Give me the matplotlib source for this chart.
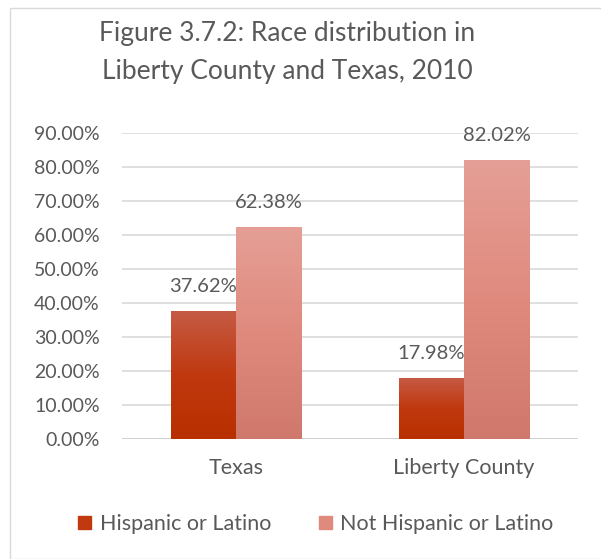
import matplotlib
matplotlib.use("Agg")
import matplotlib.pyplot as plt
import numpy as np
from matplotlib.colors import LinearSegmentedColormap
from matplotlib.patches import Rectangle, Patch

categories = ["Texas", "Liberty County"]
series_names = ["Hispanic or Latino", "Not Hispanic or Latino"]
hispanic = [37.62, 17.98]
not_hispanic = [62.38, 82.02]
yticks = [0, 10, 20, 30, 40, 50, 60, 70, 80, 90]
title_lines = ["Figure 3.7.2: Race distribution in", "Liberty County and Texas, 2010"]

plt.rcParams['font.family'] = ['Lato', 'DejaVu Sans']
TXT = "#595959"

W, H = 601, 559
fig = plt.figure(figsize=(W/100, H/100), dpi=100)
fig.patches.append(Rectangle((10/W, 0), 1, 1 - 8/H, transform=fig.transFigure,
                             fill=False, edgecolor="#d9d9d9", linewidth=1.0))

ax = fig.add_axes([122/W, 1 - 439/H, (578-122)/W, (439-133)/H])
for s in ax.spines.values():
    s.set_visible(False)
ax.set_yticks(yticks)
ax.set_yticklabels([f"{v:.2f}%" for v in yticks])
ax.tick_params(axis='y', length=0, labelsize=14, labelcolor=TXT, pad=16)
ax.tick_params(axis='x', length=0, labelsize=15.5, labelcolor=TXT, pad=14)
ax.set_xticks(range(len(categories)))
ax.set_xticklabels(categories)
ax.grid(axis='y', color="#d9d9d9", linewidth=1.2)
ax.set_axisbelow(True)
ax.axhline(0, color="#d0d0d0", linewidth=1.2)

width = 0.287
cm1 = LinearSegmentedColormap.from_list("c1", ["#b83000", "#c0390f", "#c55b45"])
cm2 = LinearSegmentedColormap.from_list("c2", ["#cf786b", "#e08a7e", "#e59f96"])
grad = np.linspace(0, 1, 256).reshape(-1, 1)

x = np.arange(len(categories))
for vals, off, cm, col in [(hispanic, -width/2, cm1, "#c0390f"), (not_hispanic, width/2, cm2, "#e08a7e")]:
    bars = ax.bar(x + off, vals, width, color=col, zorder=2)
    for b, v in zip(bars, vals):
        x0 = b.get_x()
        im = ax.imshow(grad, cmap=cm, origin='lower', aspect='auto',
                       extent=[x0, x0 + width, 0, v], zorder=3)
        im.set_clip_path(b)
        ax.text(b.get_x() + width/2, v + 7.3, f"{v:.2f}%", ha='center', va='center',
                fontsize=14.5, color=TXT)
ax.set_xlim(-0.5, 1.5)
ax.set_ylim(0, 90)

fig.text(287/W, 1 - 33/H, title_lines[0], ha='center', va='center', fontsize=19, color=TXT)
fig.text(287/W, 1 - 71/H, title_lines[1], ha='center', va='center', fontsize=19, color=TXT)

handles = [Patch(color="#c0390f"), Patch(color="#e08a7e")]
fig.legend(handles, series_names, loc='center', bbox_to_anchor=(316/W, 1 - 524/H),
           ncol=2, frameon=False, fontsize=15.5, labelcolor=TXT, handlelength=0.6,
           handleheight=0.6, handletextpad=0.4, columnspacing=2.2)

fig.savefig("out.png", dpi=100)
